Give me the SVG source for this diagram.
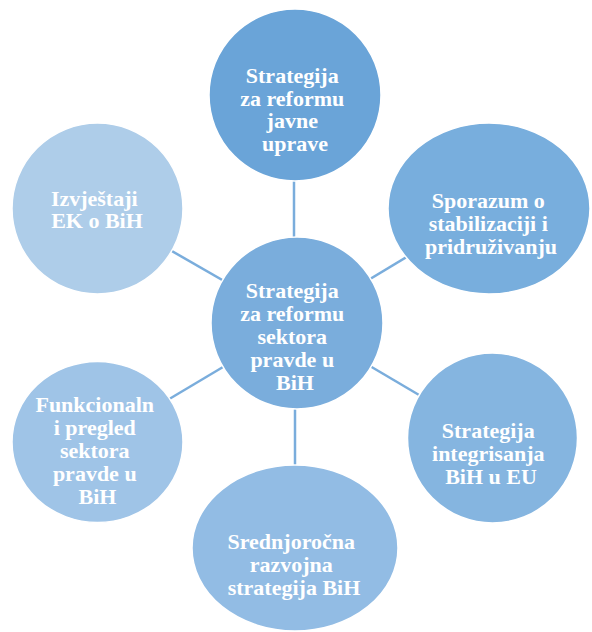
<svg xmlns="http://www.w3.org/2000/svg" width="592" height="632" viewBox="0 0 592 632">
  <style>
    .node { stroke: #ffffff; stroke-width: 1.5; }
    .label { font-family: "Liberation Serif", "Times New Roman", serif; font-weight: bold; font-size: 22px; fill: #ffffff; text-anchor: middle; }
    .link { stroke: #7aaddc; stroke-width: 2.5; fill: none; }
  </style>
  <rect width="592" height="632" fill="#ffffff"/>

  <!-- spokes from the hub to each surrounding document -->
  <g id="connectors">
    <line class="link" x1="294" y1="180" x2="294" y2="238"/>
    <line class="link" x1="297" y1="323" x2="488" y2="208"/>
    <line class="link" x1="297" y1="323" x2="492" y2="438"/>
    <line class="link" x1="295" y1="408" x2="295" y2="466"/>
    <line class="link" x1="297" y1="323" x2="97" y2="442"/>
    <line class="link" x1="297" y1="323" x2="97" y2="208"/>
  </g>

  <g id="node-top">
    <circle class="node" cx="295" cy="95" r="86" fill="#6aa4d8"/>
    <text class="label" x="295">
      <tspan x="295" y="83">Strategija</tspan>
      <tspan x="295" y="105.5">za reformu</tspan>
      <tspan x="295" y="128">javne</tspan>
      <tspan x="295" y="150.5">uprave</tspan>
    </text>
  </g>

  <g id="node-ssp">
    <ellipse class="node" cx="489" cy="208.5" rx="101" ry="85.5" fill="#78aedd"/>
    <text class="label">
      <tspan x="491" y="208">Sporazum o</tspan>
      <tspan x="491" y="231">stabilizaciji i</tspan>
      <tspan x="491" y="254">pridruživanju</tspan>
    </text>
  </g>

  <g id="node-eu">
    <circle class="node" cx="492.5" cy="438" r="85" fill="#85b5e0"/>
    <text class="label">
      <tspan x="491" y="438">Strategija</tspan>
      <tspan x="491" y="461">integrisanja</tspan>
      <tspan x="491" y="484">BiH u EU</tspan>
    </text>
  </g>

  <g id="node-bottom">
    <ellipse class="node" cx="295" cy="548" rx="103" ry="83" fill="#92bce4"/>
    <text class="label">
      <tspan x="294" y="549">Srednjoročna</tspan>
      <tspan x="294" y="572">razvojna</tspan>
      <tspan x="294" y="595">strategija BiH</tspan>
    </text>
  </g>

  <g id="node-functional">
    <ellipse class="node" cx="97.5" cy="442" rx="85.5" ry="80.5" fill="#9fc4e7"/>
    <text class="label">
      <tspan x="97.5" y="412">Funkcionaln</tspan>
      <tspan x="97.5" y="435">i pregled</tspan>
      <tspan x="97.5" y="458">sektora</tspan>
      <tspan x="97.5" y="481">pravde u</tspan>
      <tspan x="97.5" y="504">BiH</tspan>
    </text>
  </g>

  <g id="node-ec">
    <circle class="node" cx="97.5" cy="208.5" r="85.5" fill="#aecde9"/>
    <text class="label">
      <tspan x="97" y="206">Izvještaji</tspan>
      <tspan x="97" y="228">EK o BiH</tspan>
    </text>
  </g>

  <g id="node-center">
    <circle class="node" cx="297" cy="323" r="86" fill="#7aaddc"/>
    <text class="label">
      <tspan x="295" y="298">Strategija</tspan>
      <tspan x="295" y="321">za reformu</tspan>
      <tspan x="295" y="344">sektora</tspan>
      <tspan x="295" y="367">pravde u</tspan>
      <tspan x="295" y="390">BiH</tspan>
    </text>
  </g>
</svg>
